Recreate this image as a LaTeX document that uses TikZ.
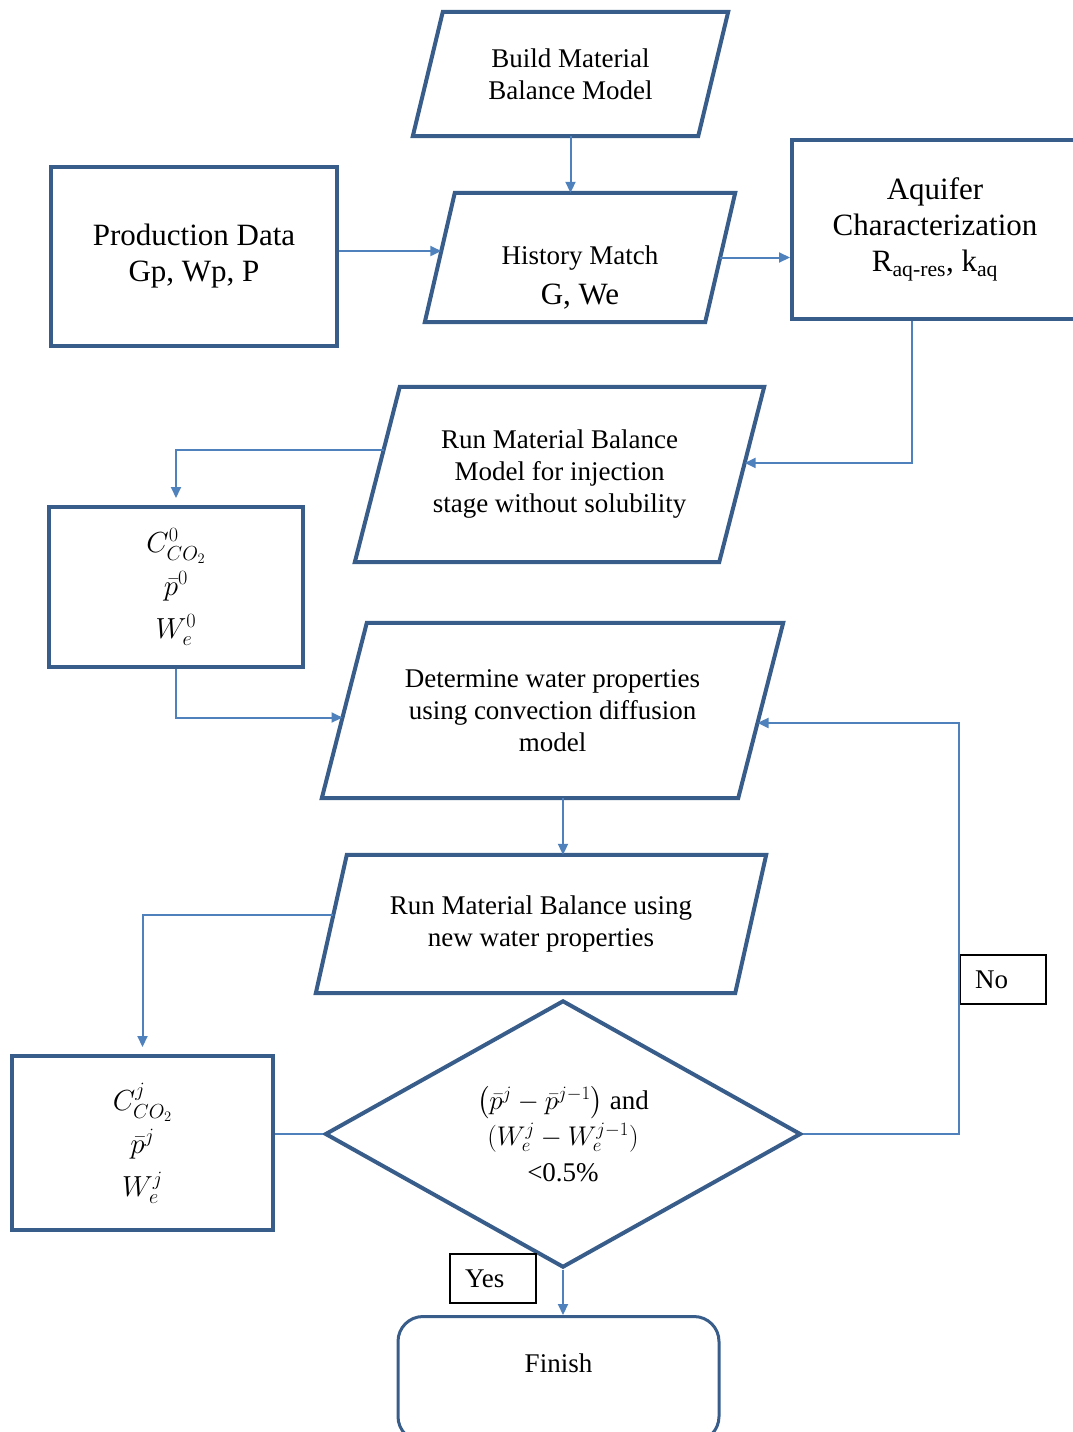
\RequirePackage{fix-cm}
\documentclass[tikz,border=0pt]{standalone}
\usepackage{amsmath}
\usepackage{amssymb}
\usepackage{fontspec}
\setmainfont{Liberation Serif}
\usetikzlibrary{arrows.meta,calc,shapes.geometric}
\definecolor{boxblue}{HTML}{385D8A}
\definecolor{linkblue}{HTML}{4F81BD}

\begin{document}
\begin{tikzpicture}[x=1pt,y=-1pt,
    para/.style={rectangle, inner sep=0pt, align=center, font=\fontsize{27}{32}\selectfont},
    paraline/.style={draw=boxblue, line width=4pt, line join=miter},
    databox/.style={rectangle, draw=boxblue, line width=4pt, inner sep=0pt,
      align=center, font=\fontsize{31}{36}\selectfont},
    mathbox/.style={databox, font=\fontsize{29}{43}\selectfont},
    conn/.style={draw=linkblue, line width=2pt, -{Triangle[length=11pt,width=10pt]}},
    tagbox/.style={draw=black, line width=1.5pt, text width=56pt, inner xsep=15pt,
      minimum height=49pt, align=left, font=\fontsize{27}{32}\selectfont}]

    \useasboundingbox (0,0) rectangle (1072,1432);

    % Model and data at the top
    \node[para, minimum width=315pt, minimum height=124pt] (build) at (570.5,74) {Build Material\\Balance Model};
    \node[para, minimum width=310pt, minimum height=129pt] (hist) at (580,257.5) {};
    \node[align=center, font=\fontsize{27}{40}\selectfont] (histtext) at (580,278) {History Match\\{\fontsize{31}{36}\selectfont G, We}};
    \node[databox, minimum width=286pt, minimum height=179pt] (prod) at (194,256.5) {Production Data\\Gp, Wp, P};
    \node[databox, minimum width=286pt, minimum height=179pt] (aq) at (935,229.5) {Aquifer\\Characterization\\R\textsubscript{aq-res}, k\textsubscript{aq}};

    % Injection stage
    \node[para, minimum width=409pt, minimum height=175pt] (rm) at (559.5,474.5) {Run Material Balance\\Model for injection\\stage without solubility};
    \node[mathbox, minimum width=254pt, minimum height=160pt] (c0) at (176,587) {$C^{0}_{CO_2}$\\$\bar{p}^{0}$\\$W_e^{0}$};

    % Iteration loop
    \node[para, minimum width=461pt, minimum height=175pt] (det) at (552.5,710.5) {Determine water properties\\using convection diffusion\\model};
    \node[para, minimum width=450pt, minimum height=138pt] (rmu) at (541,924) {Run Material Balance using\\new water properties};
    \node[mathbox, minimum width=261pt, minimum height=174pt] (cj) at (142.5,1143) {$C^{j}_{CO_2}$\\$\bar{p}^{j}$\\$W_e^{j}$};
    \node[diamond, draw=boxblue, line width=4pt, inner sep=0pt, minimum width=476pt, minimum height=256pt,
      align=center, font=\fontsize{27}{36}\selectfont] (dia) at (563,1134)
      {$\left(\bar{p}^{j}-\bar{p}^{j-1}\right)$ and\\$(W_e^{j}-W_e^{j-1})$\\<0.5\%};

    % End
    \node[rectangle, rounded corners=25pt, draw=boxblue, line width=3pt, inner sep=0pt, minimum width=321pt,
      text height=56pt, text depth=69pt, anchor=north, font=\fontsize{27}{32}\selectfont] (fin) at (558.5,1315) {Finish};

    % Yes / No labels
    \node[tagbox] (yes) at (493,1278.5) {Yes};
    \node[tagbox] (no) at (1003,979.5) {No};

    % Slanted outlines
    \draw[paraline] ([xshift=30pt]build.north west) -- (build.north east) -- ([xshift=-30pt]build.south east) -- (build.south west) -- cycle;
    \draw[paraline] ([xshift=30pt]hist.north west) -- (hist.north east) -- ([xshift=-30pt]hist.south east) -- (hist.south west) -- cycle;
    \draw[paraline] ([xshift=45pt]rm.north west) -- (rm.north east) -- ([xshift=-45pt]rm.south east) -- (rm.south west) -- cycle;
    \draw[paraline] ([xshift=45pt]det.north west) -- (det.north east) -- ([xshift=-45pt]det.south east) -- (det.south west) -- cycle;
    \draw[paraline] ([xshift=31pt]rmu.north west) -- (rmu.north east) -- ([xshift=-31pt]rmu.south east) -- (rmu.south west) -- cycle;

    % Points on the slanted sides
    \coordinate (histL) at ($([xshift=30pt]hist.north west)!0.45!(hist.south west)$);
    \coordinate (histR) at ($(hist.north east)!0.5!([xshift=-30pt]hist.south east)$);
    \coordinate (rmR) at ($(rm.north east)!0.434!([xshift=-45pt]rm.south east)$);
    \coordinate (rmL) at ($([xshift=45pt]rm.north west)!0.36!(rm.south west)$);
    \coordinate (detL) at ($([xshift=45pt]det.north west)!0.54!(det.south west)$);
    \coordinate (detR) at ($(det.north east)!0.571!([xshift=-45pt]det.south east)$);
    \coordinate (rmuL) at ($([xshift=31pt]rmu.north west)!0.435!(rmu.south west)$);

    % Connectors
    \draw[conn] (build.center |- build.south) -- (build.center |- hist.north);
    \draw[conn] (prod.east |- histL) -- (histL);
    \draw[conn] (histR) -- (histR -| aq.west);
    \draw[conn] ([xshift=-23pt]aq.south) |- (rmR);
    \draw[conn, shorten >=7pt] (rmL) -| (c0.north);
    \draw[conn] (c0.south) |- (detL);
    \draw[conn] (det.south -| dia.north) -- (rmu.north -| dia.north);
    \draw[conn, shorten >=7pt] (rmuL) -| (cj.north);
    \draw[draw=linkblue, line width=2pt] (cj.east |- dia.west) -- (dia.west);
    \draw[conn] (dia.east) -- ++(156,0) |- (detR);
    \draw[conn] (dia.south) -- (dia.south |- fin.north);
\end{tikzpicture}
\end{document}
